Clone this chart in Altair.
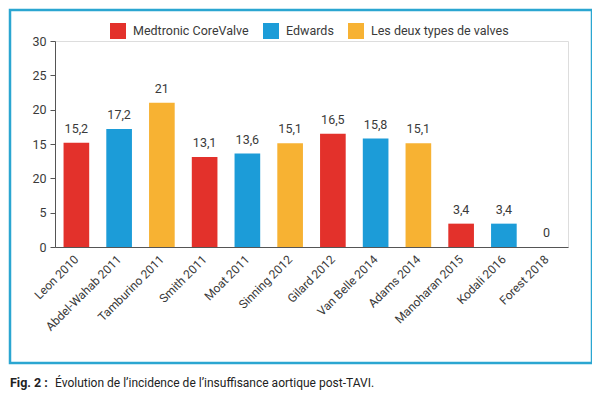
import altair as alt
import pandas as pd

studies = ["Leon 2010", "Abdel-Wahab 2011", "Tamburino 2011", "Smith 2011", "Moat 2011",
           "Sinning 2012", "Gilard 2012", "Van Belle 2014", "Adams 2014",
           "Manoharan 2015", "Kodali 2016", "Forest 2018"]
values = [15.2, 17.2, 21, 13.1, 13.6, 15.1, 16.5, 15.8, 15.1, 3.4, 3.4, 0]
types = ["Medtronic CoreValve", "Edwards", "Les deux types de valves",
         "Medtronic CoreValve", "Edwards", "Les deux types de valves",
         "Medtronic CoreValve", "Edwards", "Les deux types de valves",
         "Medtronic CoreValve", "Edwards", "Les deux types de valves"]
type_order = ["Medtronic CoreValve", "Edwards", "Les deux types de valves"]
type_colors = ["#E3312B", "#1C9CD8", "#F7B233"]
y_ticks = [0, 5, 10, 15, 20, 25, 30]
y_tick_labels = ["0", "5", "20", "15", "20", "25", "30"]  # as printed in the figure
caption_bold = "Fig. 2 :"
caption_text = "Évolution de l’incidence de l’insuffisance aortique post-TAVI."

df = pd.DataFrame({"study": studies, "value": values, "type": types})
df["label"] = [str(v).replace(".", ",") if v != int(v) else str(int(v)) for v in values]

FONT = "Roboto"
TXT = "#3a3a3a"

label_expr = ""
for t, s in zip(y_ticks, y_tick_labels):
    label_expr += f"datum.value == {t} ? '{s}' : "
label_expr += "datum.label"

x_enc = alt.X("study:N", sort=studies, title=None,
              scale=alt.Scale(paddingInner=0.4, paddingOuter=0.2),
              axis=alt.Axis(labelAngle=-45, labelAlign="right", labelBaseline="middle",
                            ticks=False, labelPadding=10, domainColor="#555",
                            labelColor=TXT, labelFontSize=12, labelFont=FONT))
y_scale = alt.Scale(domain=[0, 30], nice=False)

base = alt.Chart(df)

bars = base.mark_bar().encode(
    x=x_enc,
    y=alt.Y("value:Q", title=None, scale=y_scale,
            axis=alt.Axis(values=y_ticks, labelExpr=label_expr, grid=False,
                          orient="left",
                          domainColor="#555", tickColor="#555", tickSize=5,
                          labelColor=TXT, labelFontSize=12.5, labelFont=FONT,
                          labelPadding=4)),
    color=alt.Color("type:N", scale=alt.Scale(domain=type_order, range=type_colors),
                    legend=alt.Legend(title=None, orient="none", direction="horizontal",
                                      legendX=55, legendY=-18, symbolType="square",
                                      symbolSize=256, symbolStrokeWidth=0,
                                      symbolOpacity=1, labelFontSize=12.5,
                                      labelFont=FONT, labelColor=TXT,
                                      columnPadding=14, labelOffset=7)),
)

labels = base.mark_text(baseline="bottom", dy=-7, fontSize=12.5, font=FONT, color=TXT).encode(
    x=x_enc,
    y=alt.Y("value:Q", title=None, scale=y_scale,
            axis=alt.Axis(orient="right", labels=False, ticks=False, domain=False,
                          grid=False, values=y_ticks)),
    text="label:N",
)

frame = alt.Chart(pd.DataFrame({"a": [0]})).mark_rect(
    fill=None, stroke="#2BA6D1", strokeWidth=2.5
).encode(x=alt.value(-45), x2=alt.value(537), y=alt.value(-31), y2=alt.value(322))

cap1 = alt.Chart(pd.DataFrame({"t": [caption_bold]})).mark_text(
    align="left", baseline="middle", fontSize=12.5, font=FONT, fontWeight="bold", color="#222"
).encode(x=alt.value(-45), y=alt.value(342), text="t:N")

cap2 = alt.Chart(pd.DataFrame({"t": [caption_text]})).mark_text(
    align="left", baseline="middle", fontSize=12, font=FONT, color="#222"
).encode(x=alt.value(0), y=alt.value(342), text="t:N")

chart = alt.layer(frame, bars, labels, cap1, cap2).resolve_axis(y="independent").properties(
    width=513, height=206,
    autosize=alt.AutoSizeParams(type="none"),
    padding={"left": 47, "top": 33, "right": 24, "bottom": 147},
).configure_view(stroke=None).configure(background="white")

chart.save("out.html", embed_options={"renderer": "svg", "actions": False})
